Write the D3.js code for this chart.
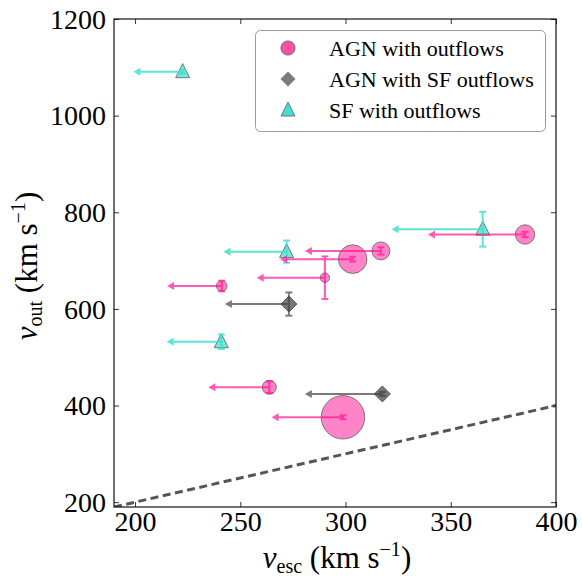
<!DOCTYPE html>
<html><head><meta charset="utf-8">
<script src="https://cdn.jsdelivr.net/npm/d3@7"></script>
<style>body{margin:0;background:#fff;} svg{display:block;}</style>
</head><body>
<svg id="chart" width="582" height="579"></svg>
<script>
// ---- data ----
const xTicks = [200, 250, 300, 350, 400];
const yTicks = [200, 400, 600, 800, 1000, 1200];

// AGN with outflows
const agnVesc   = [385.3, 316.8, 303.4, 290.2, 241.2, 263.8, 298.8];
const agnVout   = [754, 720, 703, 664.6, 647.4, 437.8, 375.7];
const agnVescLim= [339.2, 280.7, 268.9, 257.8, 215.2, 234.8, 264.9];
const agnVoutErr= [5.5, 7.5, 5, 44, 11, 12, 4];
const agnSize   = [94, 81, 204, 22, 28, 49, 471];

// AGN with SF outflows
const sfoVesc   = [273.1, 317.5];
const sfoVout   = [610, 424];
const sfoVescLim= [242.7, 280.7];
const sfoVoutErr= [24, 4];

// SF with outflows
const sfVesc    = [222.6, 365.2, 272, 241];
const sfVout    = [1091, 765, 718.5, 532];
const sfVescLim = [199.2, 321.9, 242, 215];
const sfVoutErr = [4, 36, 23, 15];

const legendLabels = ["AGN with outflows", "AGN with SF outflows", "SF with outflows"];
const oneToOne = [190, 400];

// ---- layout ----
const L = 114, R = 556, T = 19, B = 507;
const svg = d3.select("#chart");
const x = d3.scaleLinear().domain([190, 400]).range([L, R]);
const y = d3.scaleLinear().domain([190, 1200]).range([B, T]);
const rScale = d3.scaleSqrt().domain([0, 1]).range([0, 1]);

const PINK = "#ff1493", GRAY = "#444444", CYAN = "#40e0d0";
const FONT = "'Liberation Serif', 'DejaVu Serif', serif";

const plot = svg.append("g");
const clip = svg.append("clipPath").attr("id", "clip").append("rect")
  .attr("x", L).attr("y", T).attr("width", R - L).attr("height", B - T);
plot.attr("clip-path", "url(#clip)");

// 1:1 dashed line
plot.append("line")
  .attr("x1", x(oneToOne[0])).attr("y1", y(oneToOne[0]))
  .attr("x2", x(oneToOne[1])).attr("y2", y(oneToOne[1]))
  .attr("stroke", "#555").attr("stroke-width", 3).attr("stroke-dasharray", "8,4.5");

function drawSeries(vesc, vout, lim, err, color, alpha, markerFn) {
  const g = plot.append("g");
  const idx = d3.range(vesc.length);
  idx.forEach(i => markerFn(g, x(vesc[i]), y(vout[i]), i));
  const lg = g.append("g").attr("opacity", alpha);
  idx.forEach(i => {
    const cx = x(vesc[i]), cy = y(vout[i]);
    lg.append("line").attr("x1", cx).attr("y1", cy).attr("x2", x(lim[i]) + 2).attr("y2", cy)
      .attr("stroke", color).attr("stroke-width", 2);
    const tx = x(lim[i]);
    lg.append("path").attr("d", `M${tx},${cy}L${tx + 7},${cy - 4}L${tx + 7},${cy + 4}Z`)
      .attr("fill", color);
    const y1 = y(vout[i] + err[i]), y2 = y(vout[i] - err[i]);
    lg.append("line").attr("x1", cx).attr("x2", cx).attr("y1", y1).attr("y2", y2)
      .attr("stroke", color).attr("stroke-width", 2);
    [y1, y2].forEach(yy => lg.append("line").attr("x1", cx - 3.5).attr("x2", cx + 3.5)
      .attr("y1", yy).attr("y2", yy).attr("stroke", color).attr("stroke-width", 2));
  });
}

drawSeries(sfoVesc, sfoVout, sfoVescLim, sfoVoutErr, GRAY, 0.7, (g, cx, cy) => {
  g.append("path").attr("d", `M${cx},${cy - 8}L${cx + 8},${cy}L${cx},${cy + 8}L${cx - 8},${cy}Z`)
    .attr("fill", "#555").attr("fill-opacity", 0.8).attr("stroke", "#555").attr("stroke-width", 1);
});
drawSeries(sfVesc, sfVout, sfVescLim, sfVoutErr, CYAN, 0.85, (g, cx, cy) => {
  g.append("path").attr("d", `M${cx},${cy - 8}L${cx + 7},${cy + 6}L${cx - 7},${cy + 6}Z`)
    .attr("fill", CYAN).attr("fill-opacity", 0.75).attr("stroke", "#777").attr("stroke-width", 1);
});
drawSeries(agnVesc, agnVout, agnVescLim, agnVoutErr, PINK, 0.7, (g, cx, cy, i) => {
  g.append("circle").attr("cx", cx).attr("cy", cy).attr("r", rScale(agnSize[i]))
    .attr("fill", PINK).attr("fill-opacity", 0.52).attr("stroke", "#777").attr("stroke-width", 1);
});

// ---- axes ----
const axB = d3.axisBottom(x).tickValues(xTicks).tickSize(-5).tickPadding(3).tickFormat(d3.format("d"));
const axT = d3.axisTop(x).tickValues(xTicks).tickSize(-5).tickFormat("");
const axLft = d3.axisLeft(y).tickValues(yTicks).tickSize(-5).tickPadding(8).tickFormat(d3.format("d"));
const axRgt = d3.axisRight(y).tickValues(yTicks).tickSize(-5).tickFormat("");

function styleAxis(g) {
  g.select(".domain").remove();
  g.selectAll(".tick line").attr("stroke", "#333").attr("stroke-width", 1);
  g.selectAll(".tick text").attr("font-family", FONT).attr("font-size", 28).attr("fill", "#000");
}
svg.append("g").attr("transform", `translate(0,${B})`).call(axB).call(styleAxis)
  .selectAll(".tick text").attr("dy", "0.75em");
svg.append("g").attr("transform", `translate(0,${T})`).call(axT).call(styleAxis);
svg.append("g").attr("transform", `translate(${L},0)`).call(axLft).call(styleAxis)
  .selectAll(".tick text").attr("dy", "0.33em");
svg.append("g").attr("transform", `translate(${R},0)`).call(axRgt).call(styleAxis);

svg.append("rect").attr("x", L).attr("y", T).attr("width", R - L).attr("height", B - T)
  .attr("fill", "none").attr("stroke", "#111").attr("stroke-width", 1.2);

// axis labels
function axisLabel(sel, sub) {
  sel.append("tspan").attr("font-style", "italic").text("v");
  sel.append("tspan").attr("font-size", 20).attr("dy", 5).text(sub);
  sel.append("tspan").attr("dy", -5).text(" (km s");
  sel.append("tspan").attr("font-size", 20).attr("dy", -12).text("−1");
  sel.append("tspan").attr("dy", 12).text(")");
}
const xl = svg.append("text").attr("x", 337).attr("y", 568).attr("text-anchor", "middle")
  .attr("font-family", FONT).attr("font-size", 31);
axisLabel(xl, "esc");

const yl = svg.append("text").attr("transform", `translate(37,266) rotate(-90)`).attr("text-anchor", "middle")
  .attr("font-family", FONT).attr("font-size", 31);
axisLabel(yl, "out");

// ---- legend ----
const lg = svg.append("g");
lg.append("rect").attr("x", 255.5).attr("y", 30.5).attr("width", 290).attr("height", 101).attr("rx", 5)
  .attr("fill", "#fff").attr("stroke", "#999").attr("stroke-width", 1);
const rowsY = [48, 79, 110];
const mx = 288;
lg.append("circle").attr("cx", mx).attr("cy", rowsY[0]).attr("r", 7)
  .attr("fill", "#ff50ae").attr("stroke", "#666").attr("stroke-width", 1);
lg.append("path").attr("d", `M${mx},${rowsY[1] - 7.5}L${mx + 7.5},${rowsY[1]}L${mx},${rowsY[1] + 7.5}L${mx - 7.5},${rowsY[1]}Z`)
  .attr("fill", "#7a7a7a");
lg.append("path").attr("d", `M${mx},${rowsY[2] - 8}L${mx + 7},${rowsY[2] + 6}L${mx - 7},${rowsY[2] + 6}Z`)
  .attr("fill", "#40e0d0").attr("stroke", "#777").attr("stroke-width", 1);
legendLabels.forEach((t, i) => {
  lg.append("text").attr("x", 329).attr("y", rowsY[i] + 8).attr("font-family", FONT)
    .attr("font-size", 22).attr("fill", "#000").text(t);
});
</script>
</body></html>
